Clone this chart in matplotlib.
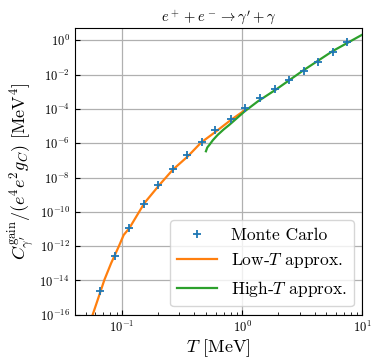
import matplotlib
matplotlib.use('Agg')
import matplotlib.pyplot as plt
from matplotlib.ticker import NullLocator
import numpy as np

plt.rcParams['font.family'] = 'serif'
plt.rcParams['font.serif'] = ['cmr10', 'DejaVu Serif']
plt.rcParams['mathtext.fontset'] = 'cm'
plt.rcParams['axes.formatter.use_mathtext'] = True
plt.rcParams['axes.unicode_minus'] = False

# Monte Carlo points
T_mc = [0.0659, 0.0879, 0.115, 0.153, 0.200, 0.266, 0.348, 0.464, 0.599,
        0.804, 1.059, 1.40, 1.86, 2.44, 3.26, 4.30, 5.66, 7.44]
logC_mc = [-14.60, -12.57, -10.92, -9.55, -8.43, -7.49, -6.67, -5.93, -5.21,
           -4.57, -3.97, -3.39, -2.82, -2.29, -1.77, -1.26, -0.70, -0.12]

# low-T approximation
T_low = [0.0569, 0.0626, 0.0712, 0.0810, 0.0937, 0.1031, 0.115, 0.1534,
         0.2046, 0.264, 0.352, 0.455, 0.607, 0.81, 1.045]
logC_low = [-16.0, -15.14, -13.97, -13.00, -12.03, -11.35, -10.95, -9.49,
            -8.43, -7.55, -6.77, -5.96, -5.31, -4.63, -4.09]

# high-T approximation
T_high = [0.499, 0.512, 0.534, 0.570, 0.626, 0.700, 0.784, 0.90, 1.045,
          1.349, 1.92, 3.20, 5.69, 10.0]
logC_high = [-6.47, -6.25, -6.09, -5.82, -5.51, -5.20, -4.92, -4.55, -4.15,
             -3.56, -2.86, -1.77, -0.62, 0.33]

fig = plt.figure(figsize=(3.81, 3.63), dpi=100)
ax = fig.add_axes([0.196, 0.133, 0.755, 0.789])

ax.plot(T_mc, 10**np.array(logC_mc), '+', color='#1f77b4', markersize=6,
        markeredgewidth=1.3, label='Monte Carlo', zorder=3)
ax.plot(T_low, 10**np.array(logC_low), '-', color='#ff7f0e', lw=1.6,
        label=r'Low-$T$ approx.')
ax.plot(T_high, 10**np.array(logC_high), '-', color='#2ca02c', lw=1.6,
        label=r'High-$T$ approx.')

ax.set_xscale('log')
ax.set_yscale('log')
ax.set_xlim(0.0403, 10)
ax.set_ylim(1e-16, 5)
ax.set_yticks([10.0**k for k in range(-16, 1, 2)])
ax.yaxis.set_minor_locator(NullLocator())
ax.tick_params(which='both', direction='in', labelsize=9)
ax.tick_params(which='major', length=3.5)
ax.grid(True, which='major', color='#b0b0b0', lw=0.9)

ax.set_xlabel(r'$T$ [MeV]', fontsize=13, labelpad=2)
ax.set_ylabel(r'$C^{\mathrm{gain}}_{\gamma^\prime}/(e^4 e^2 g_C)$ [MeV$^4$]',
              fontsize=13, labelpad=2)
ax.set_title(r"$e^+ + e^- \rightarrow \gamma^\prime + \gamma$", fontsize=10.5, pad=5)

ax.legend(loc='lower right', fontsize=12.5, framealpha=0.8, borderaxespad=0.5,
          handlelength=2.3)

fig.savefig('out.png', dpi=100)
